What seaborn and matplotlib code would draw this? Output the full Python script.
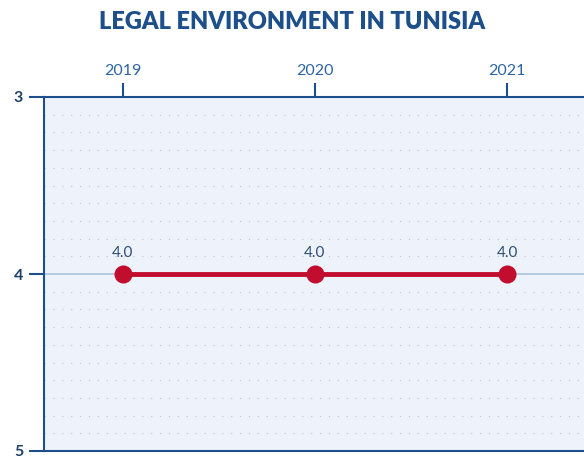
import numpy as np
import pandas as pd
import seaborn as sns
import matplotlib.pyplot as plt
from matplotlib.ticker import MultipleLocator

years = [2019, 2020, 2021]
scores = [4.0, 4.0, 4.0]
title = 'LEGAL ENVIRONMENT IN TUNISIA'

df = pd.DataFrame({'year': years, 'score': scores})

sns.set_style('white')
plt.rcParams['font.family'] = ['Lato', 'DejaVu Sans']

navy = '#1d4f8a'
fig = plt.figure(figsize=(5.84, 4.59), dpi=100)
ax = fig.add_axes([44 / 584, 1 - 451 / 459, 1 - 44 / 584, (451 - 97) / 459])
ax.set_facecolor('#eef3fb')

# grid: dotted minor rows, solid light line at major
ax.yaxis.set_minor_locator(MultipleLocator(0.1))
ax.yaxis.set_major_locator(MultipleLocator(1))
ax.grid(which='minor', axis='y', color='#b9c3cf', linestyle=(0, (1, 7)), linewidth=0.8)
ax.grid(which='major', axis='y', color='#a9c4dc', linestyle='-', linewidth=1.2)
ax.grid(which='major', axis='x', visible=False)
ax.set_axisbelow(True)

sns.lineplot(data=df, x='year', y='score', ax=ax, color='#c20e2e', linewidth=3.5,
             marker='o', markersize=13, markeredgewidth=0, zorder=5)

for x, y in zip(years, scores):
    ax.annotate(f'{y:.1f}', (x, y), xytext=(0, 10), textcoords='offset points',
                ha='center', va='bottom', fontsize=11, color='#2b4f75')

ax.set_xlim(2018.59, 2021.40)
ax.set_ylim(5, 3)
ax.set_xticks(years)
ax.set_xticklabels([str(y) for y in years])
ax.set_yticks([3, 4, 5])
ax.set_yticklabels(['3', '4', '5'])
ax.xaxis.tick_top()
ax.tick_params(axis='x', which='major', top=True, direction='out', length=10, width=1.5,
               color=navy, labelcolor='#2d64a3', labelsize=11.5, pad=4)
ax.tick_params(axis='y', which='major', left=True, direction='out', length=11, width=1.5,
               color=navy, labelcolor='#1d3f66', labelsize=11.5, pad=4)
ax.tick_params(axis='y', which='minor', left=False, length=0)
for lbl in ax.get_yticklabels():
    lbl.set_fontweight('bold')

for side in ['top', 'left', 'bottom']:
    ax.spines[side].set_color(navy)
    ax.spines[side].set_linewidth(1.5)
ax.spines['right'].set_visible(False)

ax.set_xlabel('')
ax.set_ylabel('')

fig.text(0.5, 1 - 22 / 459, title, ha='center', va='center', fontsize=17,
         fontweight='heavy', color=navy)

fig.savefig('out.png', dpi=100)
